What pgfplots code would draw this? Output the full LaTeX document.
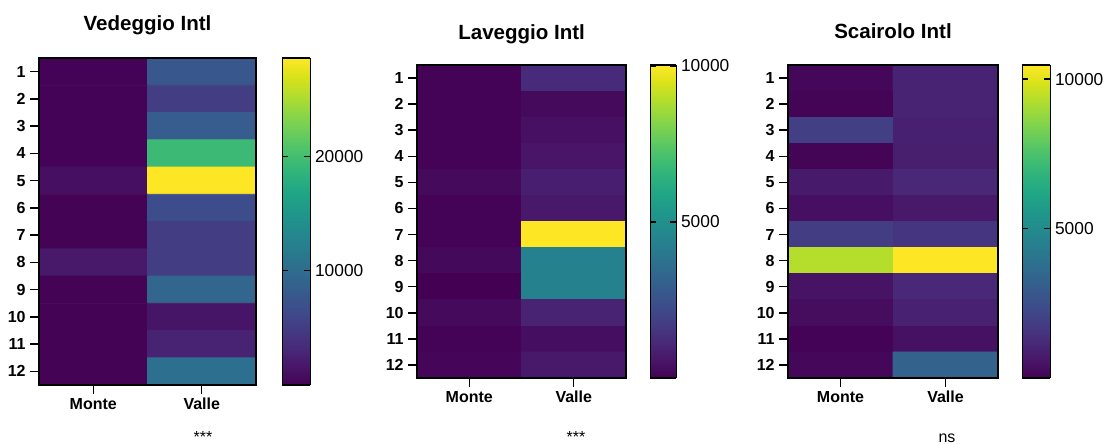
\documentclass[border=0pt]{standalone}
\usepackage{fontspec}
\setmainfont{Liberation Sans}
\usepackage{pgfplots}
\usepackage{pgfplotstable}
\pgfplotsset{compat=1.18}

% Monte / Valle intensities for the 12 samples of each site
\pgfplotstableread{
x y v
0 1 150
1 1 7700
0 2 150
1 2 5100
0 3 150
1 3 8300
0 4 150
1 4 19500
0 5 1100
1 5 28600
0 6 100
1 6 6600
0 7 100
1 7 5100
0 8 1800
1 8 5100
0 9 100
1 9 9300
0 10 100
1 10 1500
0 11 100
1 11 2700
0 12 100
1 12 10400
}\vedeggio

\pgfplotstableread{
x y v
0 1 50
1 1 1200
0 2 50
1 2 250
0 3 50
1 3 400
0 4 50
1 4 550
0 5 250
1 5 850
0 6 50
1 6 650
0 7 50
1 7 10030
0 8 200
1 8 4400
0 9 0
1 9 4400
0 10 250
1 10 950
0 11 50
1 11 350
0 12 100
1 12 650
}\laveggio

\pgfplotstableread{
x y v
0 1 150
1 1 1000
0 2 100
1 2 1000
0 3 1950
1 3 900
0 4 100
1 4 850
0 5 700
1 5 1150
0 6 400
1 6 650
0 7 1850
1 7 1550
0 8 9300
1 8 10470
0 9 500
1 9 1150
0 10 300
1 10 950
0 11 50
1 11 450
0 12 150
1 12 3300
}\scairolo

\pgfplotsset{
  heat/.style={
    scale only axis,
    anchor=south west,
    xmin=-0.5, xmax=1.5, ymin=0.5, ymax=12.5,
    y dir=reverse,
    enlargelimits=false,
    xtick={0,1}, xticklabels={Monte,Valle},
    ytick={1,2,3,4,5,6,7,8,9,10,11,12},
    yticklabels={1,2,3,4,5,6,7,8,9,10,11,12},
    xtick pos=bottom, ytick pos=left, tick align=outside,
    major tick length=6.5pt,
    every tick/.style={black, line width=1.1pt},
    axis line style={line width=1.2pt},
    x tick label style={font=\fontsize{12}{14}\selectfont\bfseries},
    y tick label style={font=\fontsize{12}{14}\selectfont\bfseries},
    colormap/viridis,
    colorbar sampled,
    axis on top,
  },
  cbar/.style n args={3}{
    colorbar style={
      samples=160,
      at={(parent axis.north east)}, anchor=north west,
      xshift=#1, width=#2,
      enlargelimits=false,
      scaled y ticks=false,
      ytick={#3}, yticklabels={#3},
      ytick pos=both, yticklabel pos=right, ytick align=inside,
      major tick length=4.5pt,
      every tick/.style={black, line width=1.1pt},
      axis line style={line width=1.2pt},
      axis on top,
      y tick label style={font=\fontsize{13}{15}\selectfont},
    },
  },
}

\begin{document}
\begin{tikzpicture}
\useasboundingbox (0,0) rectangle (830.25pt,333pt);

\begin{axis}[heat, at={(29.25pt,44.25pt)}, width=162.75pt, height=245.25pt,
  point meta min=0, point meta max=28600,
  cbar={11.25pt}{21pt}{10000,20000}]
\addplot[matrix plot*, mesh/cols=2, point meta=explicit] table[meta=v] {\vedeggio};
\end{axis}

\begin{axis}[heat, at={(312.75pt,49.5pt)}, width=156.75pt, height=234.75pt,
  point meta min=0, point meta max=10030,
  cbar={9.75pt}{19.5pt}{5000,10000}]
\addplot[matrix plot*, mesh/cols=2, point meta=explicit] table[meta=v] {\laveggio};
\end{axis}

\begin{axis}[heat, at={(591pt,49.5pt)}, width=157.5pt, height=234.75pt,
  point meta min=0, point meta max=10470,
  cbar={9.75pt}{21pt}{5000,10000}]
\addplot[matrix plot*, mesh/cols=2, point meta=explicit] table[meta=v] {\scairolo};
\end{axis}

% panel titles
\node[anchor=base, inner sep=0pt, font=\fontsize{15.4}{18}\selectfont\bfseries] at (110.6pt,309.75pt) {Vedeggio Intl};
\node[anchor=base, inner sep=0pt, font=\fontsize{15.4}{18}\selectfont\bfseries] at (391.2pt,303.75pt) {Laveggio Intl};
\node[anchor=base, inner sep=0pt, font=\fontsize{15.4}{18}\selectfont\bfseries] at (669.75pt,304.25pt) {Scairolo Intl};

% significance of Monte vs Valle
\node[anchor=base, inner sep=0pt, font=\fontsize{12}{14}\selectfont] at (152.25pt,1.5pt) {***};
\node[anchor=base, inner sep=0pt, font=\fontsize{12}{14}\selectfont] at (432pt,1.5pt) {***};
\node[anchor=base, inner sep=0pt, font=\fontsize{12}{14}\selectfont] at (710.25pt,1.5pt) {ns};
\end{tikzpicture}
\end{document}
